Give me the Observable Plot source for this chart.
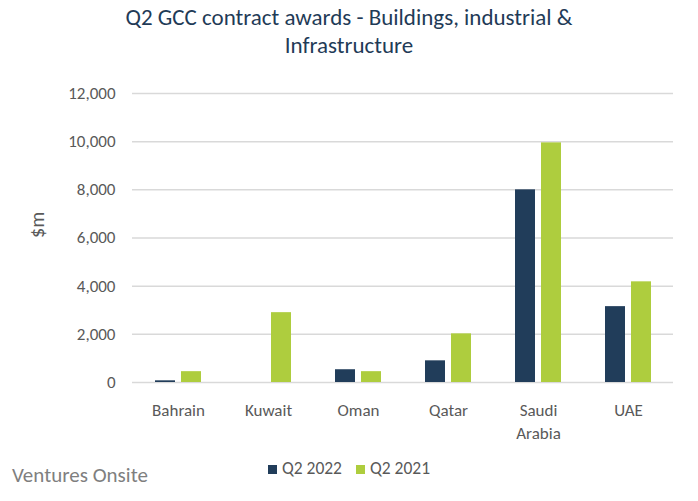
<!DOCTYPE html>
<html>
<head>
<meta charset="utf-8">
<script src="https://cdn.jsdelivr.net/npm/d3@7"></script>
<script src="https://cdn.jsdelivr.net/npm/@observablehq/plot@0.6"></script>
<style>
  html, body { margin: 0; padding: 0; background: #fff; }
  #wrap { position: relative; width: 698px; height: 501px; overflow: hidden; font-family: Carlito, Lato, "Open Sans", sans-serif; }
  #title { position: absolute; left: 0; top: 3px; width: 698px; text-align: center; font-size: 23px; line-height: 28px; color: #1f3b57; }
  #chart { position: absolute; left: 0; top: 60px; }
  #legend { position: absolute; top: 457px; left: 0; width: 698px; text-align: center; font-size: 17.5px; color: #595959; }
  #legend span.sw { display: inline-block; width: 9px; height: 9px; margin-right: 5px; }
  #legend span.item { margin: 0 7px; }
  #caption { position: absolute; left: 12px; top: 462px; font-size: 21px; color: #7f7f7f; }
</style>
</head>
<body>
<div id="wrap">
  <div id="title">Q2 GCC contract awards - Buildings, industrial &amp;<br>Infrastructure</div>
  <div id="chart"></div>
  <div id="legend"></div>
  <div id="caption">Ventures Onsite</div>
</div>
<script>
const countries = ["Bahrain", "Kuwait", "Oman", "Qatar", "Saudi Arabia", "UAE"];
const q2_2022 = [70, 0, 530, 900, 8000, 3150];
const q2_2021 = [450, 2900, 450, 2020, 9950, 4180];
const seriesNames = ["Q2 2022", "Q2 2021"];
const seriesColors = ["#213d5a", "#aecd3e"];
const yTicks = [0, 2000, 4000, 6000, 8000, 10000, 12000];

const rows = countries.map((c, i) => ({country: c, v22: q2_2022[i], v21: q2_2021[i]}));

const chart = Plot.plot({
  width: 698,
  height: 385,
  marginTop: 33,
  marginBottom: 63,
  marginLeft: 132,
  marginRight: 25,
  style: {fontFamily: "Carlito, Lato, 'Open Sans', sans-serif", fontSize: "17px", color: "#595959", background: "#fff"},
  x: {domain: countries, paddingInner: 0.49, paddingOuter: 0.25},
  y: {domain: [0, 12000]},
  marks: [
    Plot.ruleY(yTicks, {stroke: "#d9d9d9", strokeWidth: 1.5}),
    Plot.barY(rows, {x: "country", y: "v22", fill: seriesColors[0], insetRight: 26}),
    Plot.barY(rows, {x: "country", y: "v21", fill: seriesColors[1], insetLeft: 26}),
    Plot.axisY({ticks: yTicks, tickFormat: d3.format(","), tickSize: 0, tickPadding: 17,
      label: null, fontSize: 17}),
    Plot.text(["$m"], {frameAnchor: "left", rotate: -90, dx: -95, fontSize: 20, fill: "#595959"}),
    Plot.axisX({tickSize: 0, tickPadding: 17, label: null, fontSize: 17, lineHeight: 1.35,
      tickFormat: d => d === "Saudi Arabia" ? "Saudi\nArabia" : d})
  ]
});
document.getElementById("chart").appendChild(chart);

const legend = document.getElementById("legend");
seriesNames.forEach((n, i) => {
  const item = document.createElement("span");
  item.className = "item";
  const sw = document.createElement("span");
  sw.className = "sw";
  sw.style.background = seriesColors[i];
  item.appendChild(sw);
  item.appendChild(document.createTextNode(n));
  legend.appendChild(item);
});
</script>
</body>
</html>
